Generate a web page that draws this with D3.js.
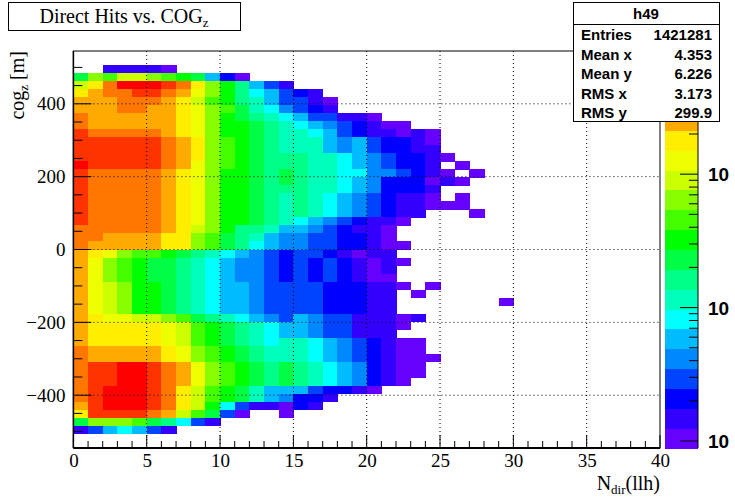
<!DOCTYPE html>
<html><head><meta charset="utf-8">
<script src="https://cdn.jsdelivr.net/npm/d3@7"></script>
<style>body{margin:0;background:#fff}svg{display:block}</style>
</head><body>
<script>
// ---- data ----
const xTicks = [0,5,10,15,20,25,30,35,40];
const yTicks = [-400,-200,0,200,400];
const xBinWidth = 1;
const yBinStart = -550, yBinWidth = 22;
// colour level per cell (0 = lowest ... 19 = highest), '.' empty; rows listed from top (bin 47) downward
const levelCodes = "0123456789abcdefghij";
const rowTopIndex = 47;
const rows = [
"..11110",
"9cbddcba9520",
"dfhjjjihfca8531",
"fghhiihgeca865321",
"ggghhhgfdba8753310",
"ggghhggfecb9764321",
"hggggggfeca9876533110",
"hggggggfecaa98765432100",
"ihhhhhgfecaa9877653211010",
"iiiiiihgfcba9877754532210",
"iiiiiihgfcba9877754532211",
"iiiiiihgfcba98887765432210",
"jiiiiihgecba9888776543221.0",
"ihhhhhgfecaa98987766443210.0",
"ihhhhhgfecaa989877654222010",
"ihhhhhgfecaa9888776542221",
"ihhhhhgfecaa9878765432110.0",
"ihhhhhgfecaa987876543211000",
"ihhhhhgfecaa987876543211...0",
"ihhhhhgfecaa98765432110",
"hhhhhhgfdca88755432110",
"hhggggffcb987544332210",
"hgggggffcb9865443322100",
"gfecbba987654323321011",
"gecba998765443232321010",
"gecba99876544323232101",
"gecba99876544323232100",
"gedcaa98765543333222110.0",
"gedcaa9876554333322211.0",
"gedcaa9876554333322211.......0",
"gedcaa9876554333322211",
"gfeeddcb9876543543311101",
"gfffffedba9876554331110",
"gfffffedba987655433111",
"gfffffedba98767765432100",
"hgggggfecba9877765432100",
"hgggggfecba98777654321000",
"hiijjihgecba989876542100",
"hiijjihgecba989876542100",
"hiijjihgecba98987654210",
"hijjjihfdba9755532210",
"hijjjihfdba9754221",
"gijjjihfda6311021",
"fiiiihgdb930..0",
"9cccb98631",
"1356531",
""
];
const palette = ["#6600ff","#3300ff","#0000ff","#0044ff","#0088ff","#00bbff","#00ffff","#00ffbb","#00ff88","#00ff44",
"#00ff00","#44ff00","#88ff00","#ccff00","#eeff00","#ffee00","#ffaa00","#ff7700","#ff3300","#ff0000"];
const statNames = ["Entries","Mean x","Mean y","RMS x","RMS y"];
const statValues = ["1421281","4.353","6.226","3.173","299.9"];
const zMajor = [1,10,100];
const zLabels = ["10","10","10"];

// ---- layout ----
const W=735,H=500, L=73.4, R=660, T=51, B=448;
const svg=d3.select("body").append("svg").attr("width",W).attr("height",H);
const x=d3.scaleLinear().domain([0,40]).range([L,R]);
const y=d3.scaleLinear().domain([-545,545]).range([B,T]);
const serif="'Liberation Serif','DejaVu Serif',serif", sans="'Liberation Sans',Arial,sans-serif";

// cells
const cells=[];
rows.forEach((s,i)=>{const r=rowTopIndex-i;[...s].forEach((c,k)=>{const lv=levelCodes.indexOf(c);if(lv>=0)cells.push({k,r,lv});});});
svg.append("g").attr("shape-rendering","crispEdges").selectAll("rect").data(cells).join("rect")
 .attr("x",d=>x(d.k*xBinWidth)).attr("width",d=>x((d.k+1)*xBinWidth)-x(d.k*xBinWidth)+0.5)
 .attr("y",d=>y(yBinStart+(d.r+1)*yBinWidth)).attr("height",d=>y(yBinStart+d.r*yBinWidth)-y(yBinStart+(d.r+1)*yBinWidth)+0.5)
 .attr("fill",d=>palette[d.lv]);

// grid
const g=svg.append("g").attr("stroke","#000").attr("stroke-width",1).attr("stroke-dasharray","1,3");
xTicks.slice(1,-1).forEach(v=>g.append("line").attr("x1",x(v)).attr("x2",x(v)).attr("y1",T).attr("y2",B));
yTicks.forEach(v=>g.append("line").attr("x1",L).attr("x2",R).attr("y1",y(v)).attr("y2",y(v)));

// frame
svg.append("rect").attr("x",L).attr("y",T).attr("width",R-L).attr("height",B-T).attr("fill","none").attr("stroke","#000").attr("stroke-width",1);

// x axis
const xa=svg.append("g").attr("transform",`translate(0,${B})`)
 .call(d3.axisBottom(x).tickValues(xTicks).tickSize(0).tickPadding(6).tickFormat(d3.format("d")));
xa.select(".domain").remove();
xa.selectAll("text").attr("font-family",serif).attr("font-size",19).attr("fill","#000");
d3.range(0,41).forEach(v=>svg.append("line").attr("x1",x(v)).attr("x2",x(v)).attr("y1",B).attr("y2",B-(v%5===0?13:7)).attr("stroke","#000"));
svg.append("line").attr("x1",L).attr("x2",R).attr("y1",B).attr("y2",B).attr("stroke","#000").attr("stroke-width",2);
// y axis
const ya=svg.append("g").attr("transform",`translate(${L},0)`)
 .call(d3.axisLeft(y).tickValues(yTicks).tickSize(0).tickPadding(8).tickFormat(d3.format("d")));
ya.select(".domain").remove();
ya.selectAll("text").attr("font-family",serif).attr("font-size",19).attr("fill","#000");
d3.range(-500,501,50).forEach(v=>svg.append("line").attr("x1",L).attr("x2",L+(v%200===0?18:9)).attr("y1",y(v)).attr("y2",y(v)).attr("stroke","#000"));
svg.append("line").attr("x1",L).attr("x2",L).attr("y1",T).attr("y2",B).attr("stroke","#000").attr("stroke-width",1.5);

// axis titles
const xt=svg.append("text").attr("x",R).attr("y",490).attr("text-anchor","end").attr("font-family",serif).attr("font-size",20);
xt.append("tspan").text("N");xt.append("tspan").attr("font-size",13).attr("dy",4).text("dir");xt.append("tspan").attr("dy",-4).text("(llh)");
const yt=svg.append("text").attr("transform",`translate(24,${T}) rotate(-90)`).attr("text-anchor","end").attr("font-family",serif).attr("font-size",20);
yt.append("tspan").text("cog");yt.append("tspan").attr("font-size",13).attr("dy",4).text("z");yt.append("tspan").attr("dy",-4).text(" [m]");

// palette
const PL=665,PR=698;
const band=d3.scaleLinear().domain([0,palette.length]).range([B,T]);
svg.append("g").attr("shape-rendering","crispEdges").selectAll("rect").data(palette).join("rect")
 .attr("x",PL).attr("width",PR-PL).attr("y",(d,i)=>band(i+1)).attr("height",(d,i)=>band(i)-band(i+1)+0.5).attr("fill",d=>d);
svg.append("line").attr("x1",PR).attr("x2",PR).attr("y1",T).attr("y2",B).attr("stroke","#000");
const z=d3.scaleLog().domain([0.886,838]).range([B,T]);
[1,2,3,4,5,6,7,8,9,10,20,30,40,50,60,70,80,90,100,200,300,400,500,600,700,800].forEach(v=>{
 const maj=zMajor.includes(v);
 svg.append("line").attr("x1",PR).attr("x2",PR-(maj?18:9)).attr("y1",z(v)).attr("y2",z(v)).attr("stroke","#000");});
zMajor.forEach((v,i)=>svg.append("text").attr("x",708).attr("y",z(v)+7).attr("font-family",sans).attr("font-weight","bold").attr("font-size",19).text(zLabels[i]));

// title box
svg.append("rect").attr("x",8.5).attr("y",2.5).attr("width",232).attr("height",28).attr("fill","#fff").attr("stroke","#000");
const tt=svg.append("text").attr("x",124).attr("y",23).attr("text-anchor","middle").attr("font-family",serif).attr("font-size",20);
tt.append("tspan").text("Direct Hits vs. COG");tt.append("tspan").attr("font-size",13).attr("dy",4).text("z");

// stats box
svg.append("rect").attr("x",573.5).attr("y",2.5).attr("width",146).attr("height",119).attr("fill","#fff").attr("stroke","#000");
svg.append("line").attr("x1",573.5).attr("x2",719.5).attr("y1",24.5).attr("y2",24.5).attr("stroke","#000");
svg.append("text").attr("x",646).attr("y",19).attr("text-anchor","middle").attr("font-family",sans).attr("font-weight","bold").attr("font-size",15).text("h49");
statNames.forEach((n,i)=>{
 const yy=40+i*19.5;
 svg.append("text").attr("x",581).attr("y",yy).attr("font-family",sans).attr("font-weight","bold").attr("font-size",15).text(n);
 svg.append("text").attr("x",712).attr("y",yy).attr("text-anchor","end").attr("font-family",sans).attr("font-weight","bold").attr("font-size",15).text(statValues[i]);
});
</script>
</body></html>
